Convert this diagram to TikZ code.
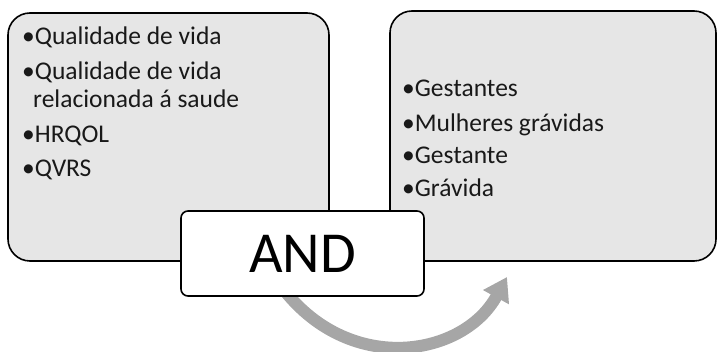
\documentclass[tikz,border=0pt]{standalone}
\usepackage{fontspec}
\setmainfont{Carlito}
\usetikzlibrary{arrows.meta}
\definecolor{boxfill}{RGB}{230,230,230}
\definecolor{arrowgray}{RGB}{166,166,166}
\begin{document}
\begin{tikzpicture}[x=1pt,y=-1pt,
  bigbox/.style={draw=black, line width=1.6pt, fill=boxfill, rounded corners=22pt, inner sep=0pt},
  andbox/.style={draw=black, line width=1.6pt, fill=white, rounded corners=7pt, inner sep=0pt,
    minimum width=243pt, minimum height=85pt, font=\fontsize{58}{60}\selectfont},
  item/.style={anchor=base west, inner sep=0pt, font=\fontsize{25.5}{28}\selectfont, text=black!90},
  curvedarrow/.style={draw=arrowgray, line width=12pt, -{Triangle[length=23pt,width=28pt]}}]
\useasboundingbox (0,0) rectangle (718,352);
% boxes
\node[bigbox, minimum width=321pt, minimum height=248pt] (left) at (168.5,137) {};
\node[bigbox, minimum width=326pt, minimum height=250pt] (right) at (553,136) {};
% left items
\node[item] (l1) at (22,45) {•Qualidade de vida};
\node[item] (l2) at (22,80) {•Qualidade de vida};
\node[item] (l2b) at (33,108) {relacionada á saude};
\node[item] (l3) at (22,143) {•HRQOL};
\node[item] (l4) at (22,177) {•QVRS};
% right items
\node[item] (r1) at (402,97) {•Gestantes};
\node[item] (r2) at (402,132) {•Mulheres grávidas};
\node[item] (r3) at (402,164) {•Gestante};
\node[item] (r4) at (402,197) {•Grávida};
% arrow
\coordinate (as) at (284,290);
\coordinate (ae) at (507,277);
\draw[curvedarrow] (as) .. controls (352,376) and (463.8,356) .. (ae);
% AND box
\node[andbox] (and) at (302.5,253.5) {AND};
\end{tikzpicture}
\end{document}
